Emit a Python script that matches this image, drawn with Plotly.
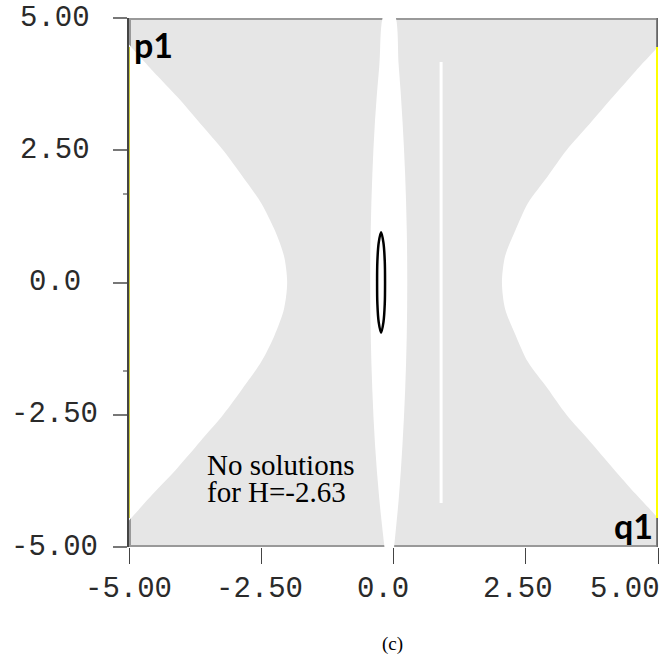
import plotly.graph_objects as go

# ---- data ----
# left boundary of the forbidden (gray) region; white region lies to its left
left_p = [-4.5, -4.0, -3.5, -3.0, -2.5, -2.0, -1.5, -1.0, -0.5, 0.0,
          0.5, 1.0, 1.5, 2.0, 2.5, 3.0, 3.5, 4.0, 4.5]
left_q = [-5.0, -4.55, -4.08, -3.65, -3.22, -2.85, -2.5, -2.25, -2.07, -2.01,
          -2.07, -2.25, -2.5, -2.85, -3.22, -3.65, -4.08, -4.55, -5.0]
# right boundary; white region lies to its right
right_p = [-4.45, -4.0, -3.5, -3.0, -2.5, -2.0, -1.5, -1.0, -0.5, 0.0,
           0.5, 1.0, 1.5, 2.0, 2.5, 3.0, 3.5, 4.0, 4.45]
right_q = [5.0, 4.58, 4.14, 3.71, 3.27, 2.91, 2.54, 2.31, 2.11, 2.05,
           2.11, 2.31, 2.54, 2.91, 3.27, 3.71, 4.14, 4.58, 5.0]
# central white lens
lens_p = [-5.0, -4.0, -3.0, -2.0, -1.0, 0.0, 1.0, 2.0, 3.0, 4.0, 5.0]
lens_left_q = [-0.16, -0.27, -0.35, -0.40, -0.43, -0.44, -0.43, -0.40, -0.35, -0.27, -0.16]
lens_right_q = [0.0, 0.10, 0.17, 0.22, 0.25, 0.26, 0.25, 0.22, 0.17, 0.10, 0.0]
# thin white line
wline_q = [0.9, 0.9]
wline_p = [-4.17, 4.17]
# small closed orbit (black)
orbit_q = [-0.235, -0.19, -0.165, -0.16, -0.165, -0.19, -0.235, -0.28, -0.305, -0.31, -0.305, -0.28, -0.235]
orbit_p = [0.95, 0.75, 0.4, 0.0, -0.4, -0.75, -0.95, -0.75, -0.4, 0.0, 0.4, 0.75, 0.95]
# yellow edges
yel_p = [-4.45, 4.45]

tick_vals = [-5.0, -2.5, 0.0, 2.5, 5.0]
tick_text = ["-5.00", "-2.50", "0.0", "2.50", "5.00"]
x_label_shift = [-1, -2, -11, -8, -33]

GRAY = "#e6e6e6"
BORDER = "#999999"

fig = go.Figure()
fig.add_trace(go.Scatter(x=[-5, 5, 5, -5, -5], y=[-5, -5, 5, 5, -5], fill="toself",
                         fillcolor=GRAY, mode="lines", line=dict(width=0), hoverinfo="skip"))
fig.add_trace(go.Scatter(x=[-5, 5, 5, -5, -5], y=[-5, -5, 5, 5, -5], mode="lines",
                         line=dict(color=BORDER, width=4), hoverinfo="skip"))
fig.add_trace(go.Scatter(x=[5, 5, None, 5, 5], y=[5, 4.45, None, -5, -4.45], mode="lines",
                         line=dict(color="#666666", width=3), hoverinfo="skip"))
fig.add_trace(go.Scatter(x=[-5.0] + left_q + [-5.0], y=[-4.5] + left_p + [4.5], fill="toself",
                         fillcolor="white", mode="lines", line=dict(width=0, shape="spline", smoothing=0.8),
                         hoverinfo="skip"))
fig.add_trace(go.Scatter(x=[5.0] + right_q + [5.0], y=[-4.45] + right_p + [4.45], fill="toself",
                         fillcolor="white", mode="lines", line=dict(width=0, shape="spline", smoothing=0.8),
                         hoverinfo="skip"))
lens_x = lens_left_q + lens_right_q[::-1]
lens_y = [v * 1.02 for v in lens_p] + [v * 1.02 for v in lens_p[::-1]]
fig.add_trace(go.Scatter(x=lens_x, y=lens_y, fill="toself", fillcolor="white", mode="lines",
                         line=dict(width=0, shape="spline"), hoverinfo="skip"))
fig.add_trace(go.Scatter(x=wline_q, y=wline_p, mode="lines", line=dict(color="white", width=3),
                         hoverinfo="skip"))
fig.add_trace(go.Scatter(x=orbit_q, y=orbit_p, mode="lines",
                         line=dict(color="black", width=2.5, shape="spline"), hoverinfo="skip"))
fig.add_trace(go.Scatter(x=[5, 5], y=yel_p, mode="lines", line=dict(color="#ffff00", width=4),
                         hoverinfo="skip"))
fig.add_trace(go.Scatter(x=[-5, -5], y=yel_p, mode="lines", line=dict(color="#c8c840", width=2),
                         hoverinfo="skip"))

MONO = dict(family="Liberation Mono", size=29, color="#2a2a2a")
ann = []
for v, t in zip(tick_vals, tick_text):
    ann.append(dict(x=-0.14, xref="paper", y=v, yref="y", text=t, showarrow=False,
                    xanchor="center", yanchor="middle", font=MONO))
for v, t, s in zip(tick_vals, tick_text, x_label_shift):
    ann.append(dict(x=v, xref="x", y=-42 / 529, yref="paper", text=t, showarrow=False,
                    xanchor="center", yanchor="middle", xshift=s, font=MONO))
ann.append(dict(x=-5, y=5, xref="x", yref="y", text="<b>p1</b>", showarrow=False,
                xanchor="left", yanchor="top", xshift=3, yshift=-4,
                font=dict(family="Lato", size=34, color="black")))
ann.append(dict(x=5, y=-5, xref="x", yref="y", text="<b>q1</b>", showarrow=False,
                xanchor="right", yanchor="bottom", xshift=-3, yshift=-1,
                font=dict(family="Lato", size=34, color="black")))
SERIF = dict(family="Liberation Serif", size=29, color="black")
ann.append(dict(x=-3.56, y=-3.45, xref="x", yref="y", text="No solutions", showarrow=False,
                xanchor="left", yanchor="middle", font=SERIF))
ann.append(dict(x=-3.56, y=-3.96, xref="x", yref="y", text="for H=-2.63", showarrow=False,
                xanchor="left", yanchor="middle", font=SERIF))
ann.append(dict(x=0.5, y=-97 / 529, xref="paper", yref="paper", text="(c)", showarrow=False,
                xanchor="center", yanchor="middle", xshift=-1,
                font=dict(family="Liberation Serif", size=19, color="black")))

fig.update_layout(
    width=664, height=655, margin=dict(l=129, r=6, t=18, b=108),
    paper_bgcolor="white", plot_bgcolor="white", showlegend=False,
    annotations=ann,
    xaxis=dict(range=[-5, 5], tickvals=tick_vals, showticklabels=False, ticks="outside",
               ticklen=16, tickcolor="#444444", tickwidth=1, showgrid=False, zeroline=False,
               showline=False, fixedrange=True),
    yaxis=dict(range=[-5, 5], tickvals=tick_vals, showticklabels=False, ticks="outside",
               ticklen=14, tickcolor="#777777", tickwidth=1.5, showgrid=False, zeroline=False,
               showline=True, linecolor="#444444", linewidth=1.5, fixedrange=True,
               minor=dict(tickvals=[-1.667, 1.667], ticks="outside", ticklen=4,
                          tickcolor="#999999")),
)

fig.write_html("out.html", config={"displayModeBar": False},
               post_script="document.body.style.margin='0';")
